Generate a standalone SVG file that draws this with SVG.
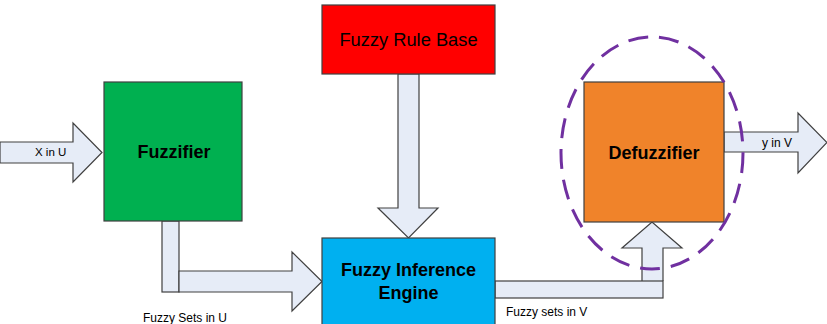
<svg xmlns="http://www.w3.org/2000/svg" width="827" height="324" viewBox="0 0 827 324">
<style>
.arr{fill:#E6ECF7;stroke:#404040;stroke-width:1.2;stroke-linejoin:miter}
.box{stroke:#404040;stroke-width:1.2}
.t{font-family:"Liberation Sans",Arial,sans-serif;fill:#000}
.b{font-weight:bold;font-size:18px;text-anchor:middle}
.s{font-size:12px}
</style>
<rect width="827" height="324" fill="#fff"/>
<g id="connectors">
<path class="arr" d="M0,142 H73 V123 L102,152.5 L73,182 V163 H0 Z"/>
<path class="arr" d="M398,74 H419 V208 H438 L408.5,238 L378,208 H398 Z"/>
<rect class="arr" x="162" y="221" width="17" height="71"/>
<path class="arr" d="M179,271 H292 V252 L322,281.5 L292,311 V292 H179 Z"/>
<path class="arr" d="M642,281 V248 H622 L652,222 L682,248 H663 V281"/>
<rect class="arr" x="495" y="281" width="168" height="17"/>
<path class="arr" d="M724,132 H798 V113 L827,142.5 L798,173 V152 H724 Z"/>
</g>
<g id="fuzzifier">
<rect class="box" x="104" y="82" width="138" height="139" fill="#00B050"/>
<text class="t b" x="174" y="157.5">Fuzzifier</text>
</g>
<g id="rulebase">
<rect class="box" x="322" y="5" width="173" height="69" fill="#FF0000"/>
<text class="t" x="408.5" y="45.5" font-size="18.3" text-anchor="middle">Fuzzy Rule Base</text>
</g>
<g id="inference">
<rect class="box" x="322" y="238" width="173" height="90" fill="#00B0F0"/>
<text class="t b" x="408.5" y="276">Fuzzy Inference</text>
<text class="t b" x="408.5" y="299">Engine</text>
</g>
<g id="defuzzifier">
<rect class="box" x="584" y="82" width="140" height="140" fill="#F0832A"/>
<text class="t b" x="654" y="158.5">Defuzzifier</text>
</g>
<g id="labels">
<text class="t" x="35" y="156" font-size="11.5">X in  U</text>
<text class="t s" x="762" y="147">y  in V</text>
<text class="t s" x="143" y="322">Fuzzy Sets in U</text>
<text class="t s" x="506" y="316">Fuzzy sets in V</text>
</g>
<g id="highlight">
<ellipse cx="652" cy="153" rx="91" ry="116" fill="none" stroke="#7030A0" stroke-width="3" stroke-dasharray="20,11"/>
</g>
</svg>
